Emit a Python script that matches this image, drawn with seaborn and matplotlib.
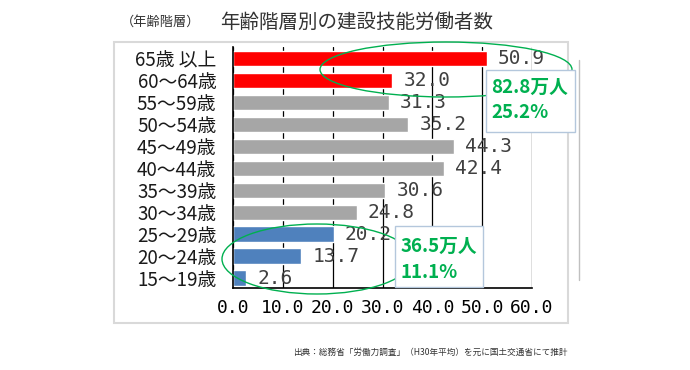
import matplotlib
matplotlib.use("Agg")
import matplotlib.pyplot as plt
from matplotlib.patches import Ellipse, Rectangle
from matplotlib.lines import Line2D
from matplotlib.ticker import FormatStrFormatter
import seaborn as sns

sns.set_theme(style="white")
plt.rcParams['font.family'] = ['Noto Sans CJK JP', 'DejaVu Sans']

age_groups = ["65歳 以上", "60～64歳", "55～59歳", "50～54歳", "45～49歳", "40～44歳",
              "35～39歳", "30～34歳", "25～29歳", "20～24歳", "15～19歳"]
workers = [50.9, 32.0, 31.3, 35.2, 44.3, 42.4, 30.6, 24.8, 20.2, 13.7, 2.6]
bar_colors = ["#ff0000", "#ff0000", "#a6a6a6", "#a6a6a6", "#a6a6a6", "#a6a6a6",
              "#a6a6a6", "#a6a6a6", "#4f81bd", "#4f81bd", "#4f81bd"]
x_ticks = [0, 10, 20, 30, 40, 50, 60]

GREEN = "#00b050"

fig = plt.figure(figsize=(6.9, 3.7), dpi=100)
ax = fig.add_axes([233 / 690, 1 - 288 / 370, 299 / 690, 241 / 370])
ax.set_facecolor("none")

sns.barplot(x=workers, y=age_groups, hue=age_groups, palette=bar_colors,
            legend=False, width=0.7, orient="h", ax=ax, saturation=1)

for i, v in enumerate(workers):
    ax.annotate(f"{v:.1f}", (v, i), xytext=(8, 0), textcoords="offset points",
                va="center", ha="left", fontsize=14, color="#404040",
                family="DejaVu Sans Mono", zorder=3)

ax.set_xlim(0, 60)
ax.set_ylim(10.45, -0.52)
ax.set_xticks(x_ticks)
ax.xaxis.set_major_formatter(FormatStrFormatter("%.1f"))
for lab in ax.get_xticklabels():
    lab.set_family("DejaVu Sans Mono")
ax.tick_params(axis="x", labelsize=13, pad=8, length=0, colors="black")
ax.tick_params(axis="y", labelsize=13.5, pad=12, length=0, labelcolor="#1a1a1a")
ax.set_xlabel("")
ax.set_ylabel("")
ax.grid(axis="x", color="black", linewidth=0.9)
ax.set_axisbelow(True)
for s in ["top", "right"]:
    ax.spines[s].set_visible(False)
for s in ["left", "bottom"]:
    ax.spines[s].set_color("black")
    ax.spines[s].set_linewidth(1.2)

px = fig.dpi_scale_trans


def pt(x, y):
    return (x / 100, (370 - y) / 100)


# outer frame and stray rule on the right
fig.patches.append(Rectangle(pt(114, 323), 454 / 100, 281 / 100, transform=px,
                             fill=False, edgecolor="#d9d9d9", linewidth=1.5, zorder=-1))
fig.lines.append(Line2D([5.79, 5.79], [(370 - 60) / 100, (370 - 280) / 100],
                        transform=px, color="#c0c0c0", linewidth=1))

# highlight ellipses
fig.patches.append(Ellipse(pt(446, 69.5), 2.52, 0.55, transform=px, fill=False,
                           edgecolor=GREEN, linewidth=1, zorder=5))
fig.patches.append(Ellipse(pt(317, 259), 1.90, 0.70, transform=px, fill=False,
                           edgecolor=GREEN, linewidth=1, zorder=5))

# callout boxes
fig.patches.append(Rectangle(pt(486, 132), 0.89, 0.62, transform=px, facecolor="white",
                             edgecolor="#b4c7dc", linewidth=1, zorder=6))
fig.patches.append(Rectangle(pt(395, 287), 0.88, 0.61, transform=px, facecolor="white",
                             edgecolor="#b4c7dc", linewidth=1, zorder=6))
for (x, y), s in [((491, 87), "82.8万人"), ((491, 113), "25.2%"),
                  ((401, 246), "36.5万人"), ((401, 272), "11.1%")]:
    fig.text(*pt(x, y), s, transform=px, color=GREEN, fontsize=13.5,
             fontweight="bold", ha="left", va="center", zorder=7)

# titles and source
fig.text(*pt(161, 22), "（年齢階層）", transform=px, fontsize=9.5, color="#333333",
         ha="center", va="center")
fig.text(*pt(357, 22), "年齢階層別の建設技能労働者数", transform=px, fontsize=14,
         color="#333333", ha="center", va="center")
fig.text(*pt(568, 352), "出典：総務省「労働力調査」（H30年平均）を元に国土交通省にて推計",
         transform=px, fontsize=6.2, color="#333333", ha="right", va="center")

fig.savefig("out.png", dpi=100)
